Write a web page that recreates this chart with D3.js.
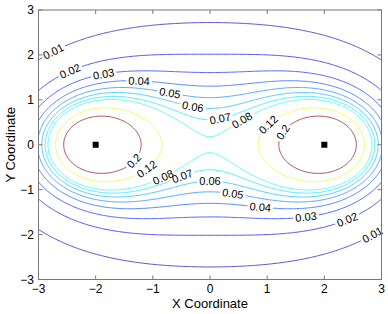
<!DOCTYPE html>
<html>
<head>
<meta charset="utf-8">
<script src="https://cdn.jsdelivr.net/npm/d3@7"></script>
<style>
	body { margin: 0; background: #fff; }
	text { font-family: "Liberation Sans", Arial, sans-serif; }
</style>
</head>
<body>
<div id="chart"></div>
<script>
//	Contour levels and the two point sources
var levels = [0.01, 0.02, 0.03, 0.04, 0.05, 0.06, 0.07, 0.08, 0.12, 0.2];
var srcX = [-2, 2],
	srcY = [0, 0];
var fieldK = 1.3;	// f = k / (r1^2 * r2^2)

var xTicks = [-3, -2, -1, 0, 1, 2, 3],
	yTicks = [-3, -2, -1, 0, 1, 2, 3];

//	Where clabel put the labels: [level, x, y] (layout hints only)
var labelAt = [
	[0.01, -2.75, 2.09], [0.02, -2.46, 1.66], [0.03, -1.87, 1.59], [0.04, -1.24, 1.41],
	[0.05, -0.7, 1.19], [0.06, -0.3, 0.87], [0.07, 0.18, 0.58], [0.08, 0.58, 0.53],
	[0.12, 1.05, 0.42], [0.2, 1.32, 0.24],
	[0.2, -1.32, -0.37], [0.12, -1.1, -0.55], [0.08, -0.82, -0.75], [0.07, -0.49, -0.71],
	[0.06, 0, -0.82], [0.05, 0.4, -1.09], [0.04, 0.88, -1.4], [0.03, 1.68, -1.63],
	[0.02, 2.39, -1.67], [0.01, 2.84, -2.0]
];

drawChart();

function jet(t) {
	function c(v) { return Math.max(0, Math.min(1, v)); }
	var r = c(1.5 - Math.abs(4 * t - 3)),
		g = c(1.5 - Math.abs(4 * t - 2)),
		b = c(1.5 - Math.abs(4 * t - 1));
	return d3.rgb(r * 255, g * 255, b * 255).toString();
}

function drawChart() {
	var W = 388, H = 314;
	var pL = 38.5, pR = 381.5, pT = 10, pB = 279.5;

	var x = d3.scaleLinear().domain([-3, 3]).range([pL, pR]);
	var y = d3.scaleLinear().domain([-3, 3]).range([pB, pT]);

	//	Sample the field on a grid a bit larger than the axes
	var step = 0.02, gx0 = -4.5, gy0 = -3.5, nx = 451, ny = 351;
	var values = new Float64Array(nx * ny);
	for (var j = 0; j < ny; j++) {
		for (var i = 0; i < nx; i++) {
			var px = gx0 + i * step, py = gy0 + j * step, prod = 1;
			for (var s = 0; s < srcX.length; s++) {
				prod *= (px - srcX[s]) * (px - srcX[s]) + (py - srcY[s]) * (py - srcY[s]);
			}
			values[j * nx + i] = Math.min(100, fieldK / Math.max(prod, 1e-9));
		}
	}

	var contours = d3.contours().size([nx, ny]).thresholds(levels)(values);

	function proj(p) {
		return [x(gx0 + (p[0] - 0.5) * step), y(gy0 + (p[1] - 0.5) * step)];
	}

	var path = d3.geoPath(d3.geoTransform({
		point: function(a, b) {
			var p = proj([a, b]);
			this.stream.point(p[0], p[1]);
		}
	}));

	var svg = d3.select("#chart")
		.append("svg")
		.attr("width", W)
		.attr("height", H)
		.attr("display", "block");

	var defs = svg.append("defs");
	defs.append("clipPath").attr("id", "plot")
		.append("rect")
		.attr("x", pL).attr("y", pT)
		.attr("width", pR - pL).attr("height", pB - pT);

	var lineG = svg.append("g").attr("clip-path", "url(#plot)");
	var labelG = svg.append("g");

	//	Labels first, so the gaps in the lines can be measured
	var masks = levels.map(function(lv, k) {
		var m = defs.append("mask").attr("id", "m" + k)
			.attr("maskUnits", "userSpaceOnUse")
			.attr("x", 0).attr("y", 0).attr("width", W).attr("height", H);
		m.append("rect").attr("width", W).attr("height", H).attr("fill", "#fff");
		return m;
	});

	labelAt.forEach(function(d) {
		var k = levels.indexOf(d[0]);
		var tx = x(d[1]), ty = y(d[2]);
		var best = null, bestD = Infinity;
		contours[k].coordinates.forEach(function(poly) {
			poly.forEach(function(ring) {
				var pts = ring.map(proj);
				pts.forEach(function(p, idx) {
					var dd = (p[0] - tx) * (p[0] - tx) + (p[1] - ty) * (p[1] - ty);
					if (dd < bestD) { bestD = dd; best = {pts: pts, i: idx}; }
				});
			});
		});
		if (!best) return;
		var n = best.pts.length,
			p = best.pts[best.i],
			pa = best.pts[(best.i - 4 + n) % n],
			pb = best.pts[(best.i + 4) % n];
		var ang = Math.atan2(pb[1] - pa[1], pb[0] - pa[0]) * 180 / Math.PI;
		if (ang > 90) ang -= 180;
		if (ang < -90) ang += 180;
		var tr = "translate(" + p[0] + "," + p[1] + ") rotate(" + ang + ")";

		var t = labelG.append("text")
			.attr("transform", tr)
			.attr("text-anchor", "middle")
			.attr("dy", "0.35em")
			.attr("font-size", 11)
			.attr("fill", "#000")
			.text(String(d[0]));
		var w = t.node().getComputedTextLength();

		masks[k].append("rect")
			.attr("transform", tr)
			.attr("x", -w / 2 - 2).attr("y", -5)
			.attr("width", w + 4).attr("height", 10)
			.attr("fill", "#000");
	});

	lineG.selectAll("path")
		.data(contours)
		.enter().append("path")
		.attr("d", path)
		.attr("fill", "none")
		.attr("stroke", function(d) { return jet(d.value / 0.2); })
		.attr("stroke-width", 0.8)
		.attr("stroke-opacity", 0.85)
		.attr("mask", function(d, k) { return "url(#m" + k + ")"; });

	//	Source markers
	svg.selectAll(".src")
		.data(srcX)
		.enter().append("rect")
		.attr("x", function(d) { return x(d) - 3; })
		.attr("y", function(d, k) { return y(srcY[k]) - 3; })
		.attr("width", 6).attr("height", 6)
		.attr("fill", "#000");

	//	Axes box and ticks
	var axisColor = "#777";
	svg.append("rect")
		.attr("x", pL).attr("y", pT)
		.attr("width", pR - pL).attr("height", pB - pT)
		.attr("fill", "none").attr("stroke", axisColor).attr("stroke-width", 1);

	var tickG = svg.append("g").attr("stroke", axisColor).attr("stroke-width", 1);
	xTicks.forEach(function(v) {
		tickG.append("line").attr("x1", x(v)).attr("x2", x(v)).attr("y1", pB).attr("y2", pB - 4);
		tickG.append("line").attr("x1", x(v)).attr("x2", x(v)).attr("y1", pT).attr("y2", pT + 4);
	});
	yTicks.forEach(function(v) {
		tickG.append("line").attr("y1", y(v)).attr("y2", y(v)).attr("x1", pL).attr("x2", pL + 4);
		tickG.append("line").attr("y1", y(v)).attr("y2", y(v)).attr("x1", pR).attr("x2", pR - 4);
	});

	function fmt(v) { return v < 0 ? "\u2212" + Math.abs(v) : String(v); }

	svg.selectAll(".xt")
		.data(xTicks)
		.enter().append("text")
		.attr("x", function(d) { return x(d); })
		.attr("y", 293)
		.attr("text-anchor", "middle")
		.attr("font-size", 12)
		.text(fmt);

	svg.selectAll(".yt")
		.data(yTicks)
		.enter().append("text")
		.attr("x", 34)
		.attr("y", function(d) { return y(d); })
		.attr("dy", "0.35em")
		.attr("text-anchor", "end")
		.attr("font-size", 12)
		.text(fmt);

	svg.append("text")
		.attr("x", (pL + pR) / 2)
		.attr("y", 308)
		.attr("text-anchor", "middle")
		.attr("font-size", 13)
		.text("X Coordinate");

	svg.append("text")
		.attr("transform", "translate(15," + (pT + pB) / 2 + ") rotate(-90)")
		.attr("text-anchor", "middle")
		.attr("font-size", 13)
		.text("Y Coordinate");
}
</script>
</body>
</html>
